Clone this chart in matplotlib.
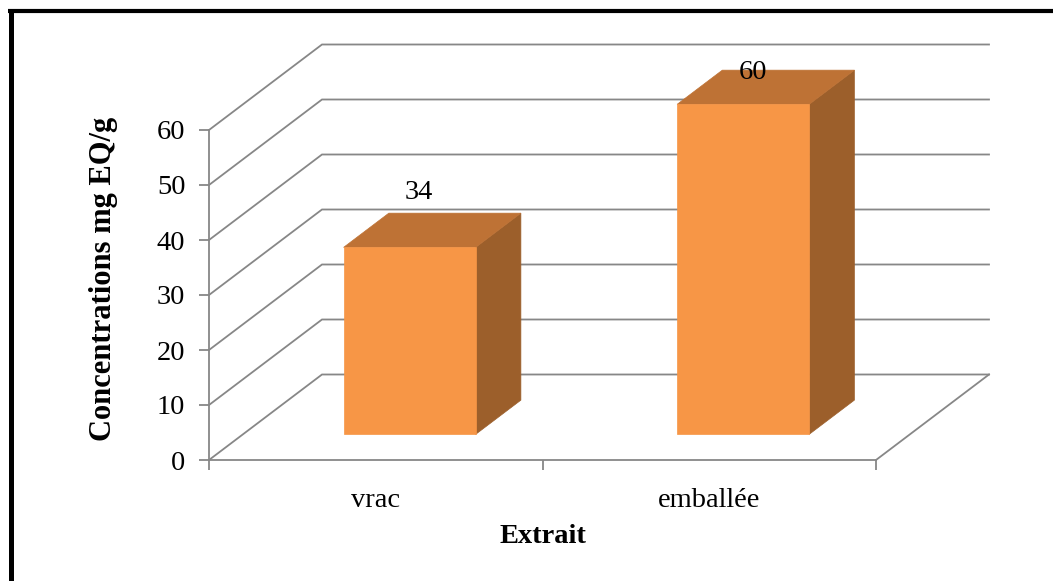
import matplotlib
matplotlib.use("Agg")
import matplotlib.pyplot as plt
from matplotlib.patches import Polygon
from matplotlib.lines import Line2D

# Data
categories = ["vrac", "emballée"]
values = [34, 60]
y_ticks = [0, 10, 20, 30, 40, 50, 60]
y_label = "Concentrations mg EQ/g"
x_label = "Extrait"

# Style
FRONT = "#F79646"
TOP = "#BE7235"
SIDE = "#9C5F2B"
GRID = "#878787"
FONT = "Liberation Serif"
FS = 20.5

W, H, DPI = 1053, 581, 100
fig = plt.figure(figsize=(W / DPI, H / DPI), dpi=DPI)
fig.patch.set_facecolor("white")

# front plane of the 3D box
ax = fig.add_axes([209 / W, 121 / H, 667 / W, 330 / H])
ax.set_xlim(-0.5, len(categories) - 0.5)
ax.set_ylim(0, 60)
ax.patch.set_alpha(0)

# oblique depth offset (full depth) in data units
DX = 113 / 333.5
DY = 85.5 / 5.5


def proj(x, y, d):
    return (x + d * DX, y + d * DY)


x0, x1 = -0.5, len(categories) - 0.5

# gridlines on left side wall and back wall
for v in y_ticks:
    pts = [proj(x0, v, 0), proj(x0, v, 1), proj(x1, v, 1)]
    ax.add_line(Line2D([p[0] for p in pts], [p[1] for p in pts], color=GRID,
                       lw=1.3, clip_on=False, zorder=1, solid_joinstyle="miter"))
# right edge of the floor
p, q = proj(x1, 0, 0), proj(x1, 0, 1)
ax.add_line(Line2D([p[0], q[0]], [p[1], q[1]], color=GRID, lw=1.3,
                   clip_on=False, zorder=1))

# bars
half_w = 0.198
d_front, d_back = 0.3, 0.7
for i, v in enumerate(values):
    l, r = i - half_w, i + half_w
    front = [proj(l, 0, d_front), proj(r, 0, d_front), proj(r, v, d_front), proj(l, v, d_front)]
    top = [proj(l, v, d_front), proj(r, v, d_front), proj(r, v, d_back), proj(l, v, d_back)]
    side = [proj(r, 0, d_front), proj(r, 0, d_back), proj(r, v, d_back), proj(r, v, d_front)]
    for poly, c in ((side, SIDE), (top, TOP), (front, FRONT)):
        ax.add_patch(Polygon(poly, closed=True, facecolor=c, edgecolor=c, lw=0.5,
                             clip_on=False, zorder=3))
    ax.text(i + 0.13, min(v + 14.7, 70.5), str(v), ha="center", va="center",
            fontsize=FS, family=FONT, color="black", zorder=5, clip_on=False)

# axes styling
for s in ("top", "right"):
    ax.spines[s].set_visible(False)
for s in ("left", "bottom"):
    ax.spines[s].set_color(GRID)
    ax.spines[s].set_linewidth(1.3)
ax.set_yticks(y_ticks)
ax.set_yticklabels([str(t) for t in y_ticks], family=FONT, fontsize=FS)
ax.set_xticks(range(len(categories)))
ax.set_xticklabels(categories, family=FONT, fontsize=FS)
ax.set_xticks([x0 + k for k in range(len(categories) + 1)], minor=True)
ax.tick_params(axis="x", which="major", length=0, pad=20)
ax.tick_params(axis="x", which="minor", length=7, width=1.3, color=GRID)
ax.tick_params(axis="y", length=7, width=1.3, color=GRID, pad=10)

ax.set_ylabel(y_label, family=FONT, fontsize=22, fontweight="bold", labelpad=28)
ax.yaxis.label.set_y(0.548)
ax.set_xlabel(x_label, family=FONT, fontsize=FS, fontweight="bold", labelpad=8)

# frame (top and left edges)
fig.add_artist(Line2D([8 / W, 1.0], [1 - 10.5 / H, 1 - 10.5 / H], color="black",
                      lw=3.0, transform=fig.transFigure, solid_capstyle="butt"))
fig.add_artist(Line2D([10.5 / W, 10.5 / W], [0, 1 - 9 / H], color="black",
                      lw=3.6, transform=fig.transFigure, solid_capstyle="butt"))

fig.savefig("out.png", dpi=DPI, facecolor="white")
